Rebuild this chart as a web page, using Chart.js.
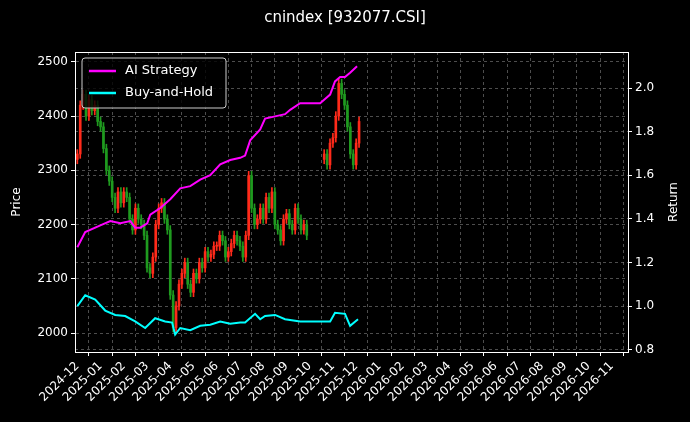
<!DOCTYPE html>
<html><head><meta charset="utf-8">
<script src="https://cdn.jsdelivr.net/npm/chart.js@4/dist/chart.umd.min.js"></script>
<style>html,body{margin:0;background:#000}#w{width:690px;height:422px}</style>
</head><body><div id="w"><canvas id="c"></canvas></div>
<script>
const monthLabels=["2024-12","2025-01","2025-02","2025-03","2025-04","2025-05","2025-06","2025-07","2025-08","2025-09","2025-10","2025-11","2025-12","2026-01","2026-02","2026-03","2026-04","2026-05","2026-06","2026-07","2026-08","2026-09","2026-10","2026-11"];
const candleT=[0,0.125,0.25,0.375,0.5,0.625,0.75,0.875,1,1.125,1.25,1.375,1.5,1.625,1.75,1.875,2,2.125,2.25,2.375,2.5,2.625,2.75,2.875,3,3.125,3.25,3.375,3.5,3.625,3.75,3.875,4,4.125,4.25,4.375,4.5,4.625,4.75,4.875,5,5.125,5.25,5.375,5.5,5.625,5.75,5.875,6,6.125,6.25,6.375,6.5,6.625,6.75,6.875,7,7.125,7.25,7.375,7.5,7.625,7.75,7.875,8,8.125,8.25,8.375,8.5,8.625,8.75,8.875,9,9.125,9.25,9.375,9.5,9.625,9.75,9.875,10.625,10.75,10.875,11,11.125,11.25,11.375,11.5,11.625,11.75,11.875,12,12.125];
const closes=[2330,2420,2440,2400,2430,2410,2420,2390,2380,2340,2300,2280,2250,2230,2260,2240,2260,2250,2210,2190,2230,2210,2200,2180,2120,2110,2140,2200,2230,2240,2210,2190,2070,2010,2050,2090,2110,2130,2090,2075,2110,2100,2130,2120,2150,2140,2145,2160,2160,2180,2170,2140,2150,2165,2180,2170,2160,2140,2180,2290,2230,2200,2210,2230,2210,2250,2230,2260,2200,2190,2170,2210,2220,2200,2190,2230,2210,2190,2200,2180,2330,2310,2350,2360,2400,2460,2440,2420,2380,2330,2310,2350,2390];
const gapOpens={0:2320,80:2320};
const stratT=[0,0.34,0.99,1.42,1.85,2.28,2.49,2.71,3.01,3.14,3.57,4.0,4.43,4.86,5.29,5.72,6.15,6.58,7.01,7.22,7.44,7.87,8.08,8.51,8.94,9.16,9.59,10.45,10.66,10.88,11.09,11.31,11.52,11.74,12.04];
const stratV=[1.27,1.34,1.37,1.39,1.38,1.39,1.36,1.36,1.38,1.42,1.45,1.49,1.54,1.55,1.58,1.60,1.65,1.67,1.68,1.69,1.76,1.81,1.86,1.87,1.88,1.90,1.93,1.93,1.95,1.97,2.03,2.05,2.05,2.07,2.10];
const bhT=[0,0.34,0.77,1.2,1.63,2.06,2.49,2.92,3.35,3.78,4.08,4.21,4.43,4.86,5.29,5.72,6.15,6.58,7.01,7.22,7.65,7.87,8.08,8.51,8.94,9.59,10.45,10.88,11.09,11.52,11.74,12.08];
const bhV=[1.0,1.05,1.03,0.98,0.96,0.955,0.93,0.90,0.945,0.93,0.925,0.87,0.90,0.89,0.91,0.915,0.93,0.92,0.925,0.925,0.965,0.94,0.955,0.96,0.94,0.93,0.93,0.93,0.97,0.965,0.91,0.94];

const opens=closes.map((c,i)=>(i in gapOpens)?gapOpens[i]:closes[i-1]);
const bodies=candleT.map((t,i)=>({x:t,y:[opens[i],closes[i]]}));
const wicks=candleT.map((t,i)=>({x:t,y:[Math.min(opens[i],closes[i])-8,Math.max(opens[i],closes[i])+8]}));
const col=(ctx)=>{const i=ctx.dataIndex;return closes[i]>=opens[i]?'#ff2a1a':'#1f9a1f';};

const fixed={id:'fixed',afterDraw(ch){const c=ch.ctx;c.save();
 c.fillStyle='#fff';c.font='15px "DejaVu Sans"';c.textAlign='center';c.textBaseline='middle';c.fillText('cnindex [932077.CSI]',345,18);
 const a=ch.chartArea;
 c.font='12px "DejaVu Sans"';
 c.save();c.translate(674,(a.top+a.bottom)/2);c.rotate(-Math.PI/2);c.fillText('Return',0,0);c.restore();
 c.save();c.translate(17,(a.top+a.bottom)/2);c.rotate(-Math.PI/2);c.fillText('Price',0,0);c.restore();
 c.strokeStyle='#fff';c.lineWidth=1;c.strokeRect(a.left+0.5,a.top+0.5,a.right-a.left,a.bottom-a.top);
 const lx=a.left+7,ly=a.top+6;c.fillStyle='rgba(0,0,0,0.8)';c.strokeStyle='#ccc';
 c.beginPath();c.roundRect(lx,ly,144,50,3);c.fill();c.stroke();
 c.font='13px "DejaVu Sans"';c.textAlign='left';
 [['AI Strategy','#ff00ff'],['Buy-and-Hold','#00ffff']].forEach((e,k)=>{const yy=ly+13+k*22;c.strokeStyle=e[1];c.lineWidth=2.5;c.beginPath();c.moveTo(lx+7,yy);c.lineTo(lx+34,yy);c.stroke();c.fillStyle='#fff';c.fillText(e[0],lx+43,yy);});
 c.restore();}};

const grid={color:'rgba(128,128,128,0.6)',tickColor:'#fff',tickLength:4};
const border={display:true,color:'#fff',dash:[3,3]};
new Chart(document.getElementById('c'),{
 data:{datasets:[
  {type:'bar',data:wicks,backgroundColor:col,barThickness:1,yAxisID:'y',grouped:false,order:3},
  {type:'bar',data:bodies,backgroundColor:col,barThickness:2,minBarLength:1,yAxisID:'y',grouped:false,order:2},
  {type:'line',data:stratT.map((t,i)=>({x:t,y:stratV[i]})),borderColor:'#ff00ff',borderWidth:2,pointRadius:0,yAxisID:'y1',order:1},
  {type:'line',data:bhT.map((t,i)=>({x:t,y:bhV[i]})),borderColor:'#00ffff',borderWidth:2,pointRadius:0,yAxisID:'y1',order:0}
 ]},
 plugins:[fixed],
 options:{responsive:true,maintainAspectRatio:false,animation:false,
  layout:{padding:{top:52,left:0,right:0,bottom:0}},
  plugins:{legend:{display:false},tooltip:{enabled:false}},
  scales:{
   x:{type:'linear',min:-0.1,max:23.7,offset:false,afterBuildTicks(s){s.ticks=monthLabels.map((_,i)=>({value:i}));},
    ticks:{color:'#fff',font:{size:12,family:'DejaVu Sans'},maxRotation:45,minRotation:45,autoSkip:false,callback:(v)=>monthLabels[v]},
    grid,border,afterFit(s){s.height=70;}},
   y:{position:'left',min:1965,max:2518,afterBuildTicks(s){s.ticks=[2000,2100,2200,2300,2400,2500].map(v=>({value:v}));},
    ticks:{color:'#fff',font:{size:12,family:'DejaVu Sans'},callback:v=>String(v)},
    grid,border,afterFit(s){s.width=75;}},
   y1:{position:'right',min:0.79,max:2.165,afterBuildTicks(s){s.ticks=[0.8,1.0,1.2,1.4,1.6,1.8,2.0].map(v=>({value:v}));},
    ticks:{color:'#fff',font:{size:12,family:'DejaVu Sans'},callback:v=>v.toFixed(1)},
    grid,border,afterFit(s){s.width=62;}}
  }}
});
</script></body></html>
